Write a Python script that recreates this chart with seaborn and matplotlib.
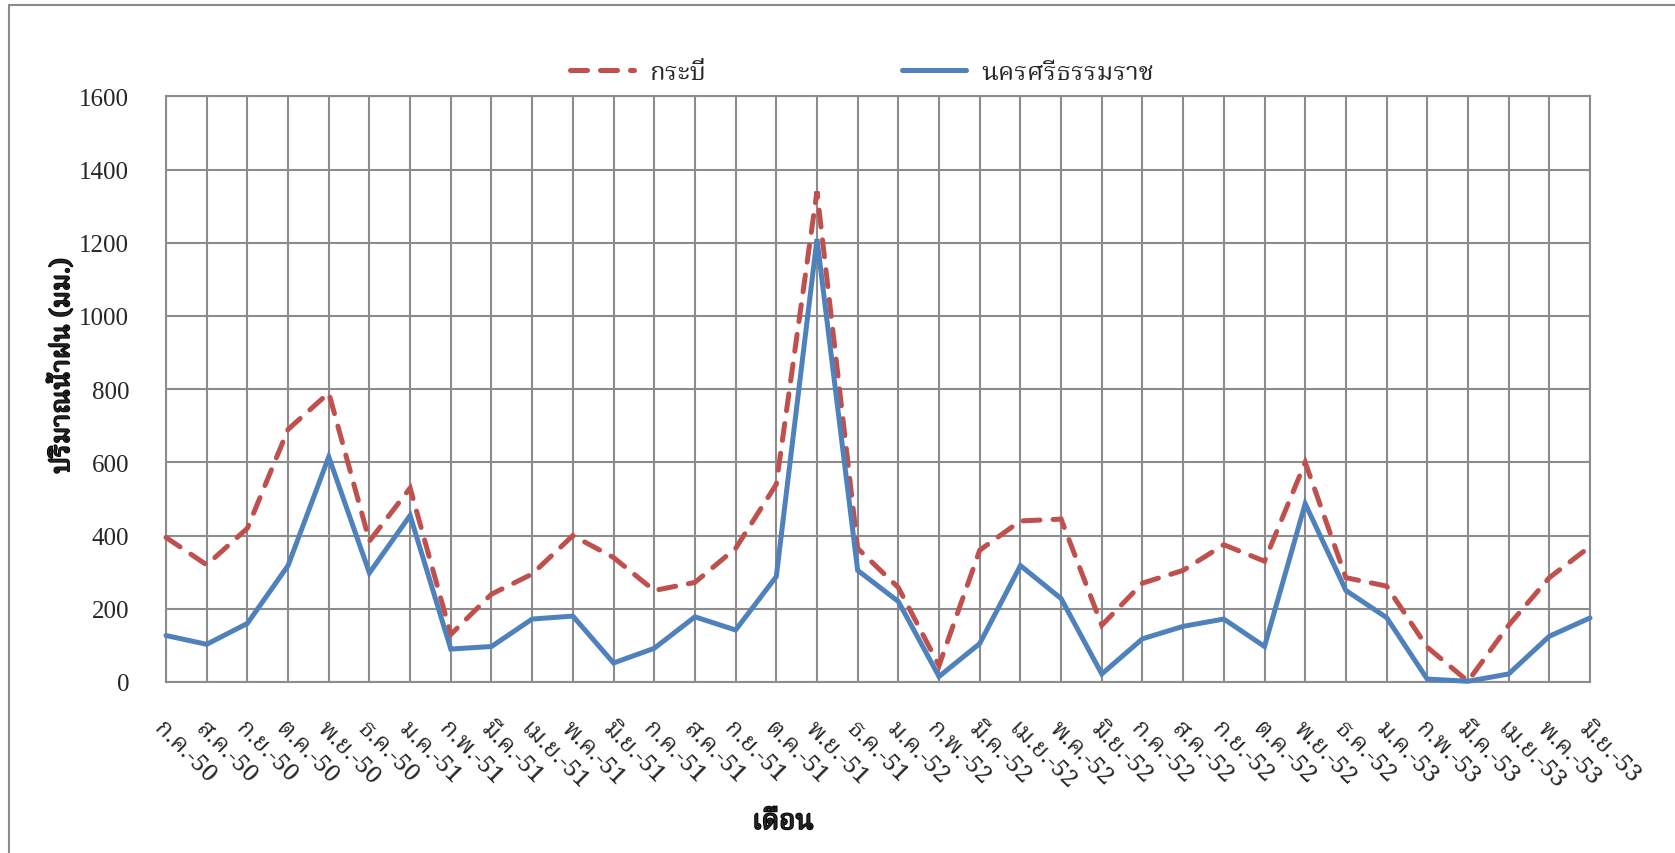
import matplotlib
matplotlib.use("Agg")
import matplotlib.pyplot as plt
import matplotlib.patheffects as pe
from matplotlib import font_manager
from matplotlib.ft2font import FT2Font
from matplotlib.lines import Line2D
from matplotlib.patches import Rectangle
import pandas as pd
import seaborn as sns

# Monthly rainfall (mm), July 2550 - June 2553
months = ["ก.ค.-50", "ส.ค.-50", "ก.ย.-50", "ต.ค.-50", "พ.ย.-50", "ธ.ค.-50",
          "ม.ค.-51", "ก.พ.-51", "มี.ค.-51", "เม.ย.-51", "พ.ค.-51", "มิ.ย.-51",
          "ก.ค.-51", "ส.ค.-51", "ก.ย.-51", "ต.ค.-51", "พ.ย.-51", "ธ.ค.-51",
          "ม.ค.-52", "ก.พ.-52", "มี.ค.-52", "เม.ย.-52", "พ.ค.-52", "มิ.ย.-52",
          "ก.ค.-52", "ส.ค.-52", "ก.ย.-52", "ต.ค.-52", "พ.ย.-52", "ธ.ค.-52",
          "ม.ค.-53", "ก.พ.-53", "มี.ค.-53", "เม.ย.-53", "พ.ค.-53", "มิ.ย.-53"]

krabi = [395, 320, 420, 690, 790, 385,
         530, 130, 240, 295, 400, 340,
         250, 272, 365, 540, 1340, 365,
         258, 45, 360, 440, 445, 155,
         270, 305, 375, 330, 600, 285,
         262, 95, 2, 155, 285, 370]

nakhon = [127, 103, 160, 318, 615, 298,
          455, 90, 97, 172, 180, 52,
          92, 178, 142, 288, 1210, 305,
          220, 15, 105, 318, 228, 22,
          118, 152, 172, 97, 487, 250,
          176, 8, 2, 22, 125, 175]

station_names = ["กระบี่", "นครศรีธรรมราช"]
yticks = [0, 200, 400, 600, 800, 1000, 1200, 1400, 1600]


def thai_font():
    preferred = ["Noto Serif Thai", "Noto Sans Thai", "Noto Sans Thai Looped",
                 "Norasi", "Kinnari", "Loma", "Garuda", "Tlwg Typo", "Sawasdee"]
    found = {}
    for entry in font_manager.fontManager.ttflist:
        if entry.name in found:
            continue
        try:
            if 0x0E01 in FT2Font(entry.fname).get_charmap():
                found[entry.name] = entry.fname
        except Exception:
            pass
    for name in preferred:
        if name in found:
            return name
    return next(iter(found), "DejaVu Sans")


sns.set_theme(style="white")
THAI = thai_font()
SERIF = "Liberation Serif"
plt.rcParams["font.family"] = [THAI, SERIF, "DejaVu Sans"]

RED = "#C0504D"
BLUE = "#4F81BD"
GRID = "#8C8C8C"
HEAVY = [pe.withStroke(linewidth=1.3, foreground="black")]

df = pd.DataFrame({
    "idx": list(range(len(months))) * 2,
    "rain": krabi + nakhon,
    "station": [station_names[0]] * len(months) + [station_names[1]] * len(months),
})

fig = plt.figure(figsize=(16.75, 8.54), dpi=100)
ax = fig.add_axes([166 / 1675, 1 - 683 / 854, (1590 - 166) / 1675, (683 - 97.3) / 854])

LW = 3.6
DASH = (3.4, 2.6)
sns.lineplot(data=df, x="idx", y="rain", hue="station", style="station",
             palette={station_names[0]: RED, station_names[1]: BLUE},
             dashes={station_names[0]: DASH, station_names[1]: ""},
             linewidth=LW, legend=False, ax=ax, zorder=3)
for ln in ax.get_lines():
    ln.set_dash_capstyle("round")
    ln.set_solid_capstyle("round")
    ln.set_solid_joinstyle("miter")
    ln.set_dash_joinstyle("miter")
    ln.set_clip_on(False)

ax.set_xlim(0, len(months) - 1)
ax.set_ylim(0, 1600)
ax.set_xticks(range(len(months)))
ax.set_xticklabels(months, rotation=-45, ha="left", va="top",
                   rotation_mode="anchor", fontsize=17.5, family=[THAI, SERIF])
ax.set_yticks(yticks)
ax.set_yticklabels([str(v) for v in yticks], fontsize=18, family=[SERIF])

ax.grid(True, color=GRID, linewidth=1.5, zorder=0)
ax.set_axisbelow(True)
for s in ax.spines.values():
    s.set_color(GRID)
    s.set_linewidth(1.5)
ax.tick_params(axis="x", direction="out", length=7.5, width=1.5, color=GRID, pad=17)
ax.tick_params(axis="y", direction="out", length=8.5, width=1.5, color=GRID, pad=18)
ax.set_xlabel("")
ax.set_ylabel("")

fig.text(62 / 1675, 1 - 367 / 854, "ปริมาณน้ำฝน (มม.)", rotation=90,
         ha="center", va="center", fontsize=19, fontweight="bold",
         family=[THAI, SERIF], path_effects=HEAVY)
fig.text(783 / 1675, 1 - 823 / 854, "เดือน", ha="center", va="center",
         fontsize=20, fontweight="bold", family=[THAI, SERIF],
         path_effects=HEAVY)

handles = [
    Line2D([], [], color=RED, linewidth=LW, linestyle=(0, DASH),
           dash_capstyle="round"),
    Line2D([], [], color=BLUE, linewidth=LW, solid_capstyle="round"),
]
fig.legend(handles, station_names, loc="center",
           bbox_to_anchor=(862 / 1675, 1 - 73 / 854), ncol=2, frameon=False,
           handlelength=2.5, handletextpad=0.6, columnspacing=7.6,
           prop={"family": [THAI, SERIF], "size": 18.5})

# outer chart frame
fig.patches.append(Rectangle((9 / 1675, -0.05), 1.2, 1 - 6 / 854 + 0.05,
                             transform=fig.transFigure, fill=False,
                             edgecolor=GRID, linewidth=1.5))

fig.savefig("out.png", dpi=100)
